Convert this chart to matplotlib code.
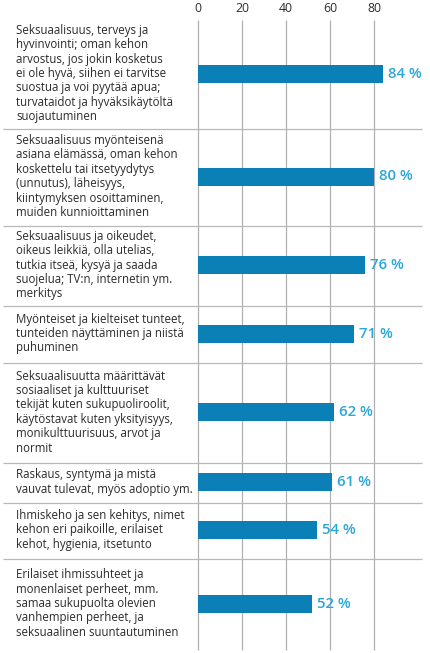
import matplotlib.pyplot as plt

# Aiheet ja osuudet (%)
labels = [
    "Seksuaalisuus, terveys ja\nhyvinvointi; oman kehon\narvostus, jos jokin kosketus\nei ole hyvä, siihen ei tarvitse\nsuostua ja voi pyytää apua;\nturvataidot ja hyväksikäytöltä\nsuojautuminen",
    "Seksuaalisuus myönteisenä\nasiana elämässä, oman kehon\nkoskettelu tai itsetyydytys\n(unnutus), läheisyys,\nkiintymyksen osoittaminen,\nmuiden kunnioittaminen",
    "Seksuaalisuus ja oikeudet,\noikeus leikkiä, olla utelias,\ntutkia itseä, kysyä ja saada\nsuojelua; TV:n, internetin ym.\nmerkitys",
    "Myönteiset ja kielteiset tunteet,\ntunteiden näyttäminen ja niistä\npuhuminen",
    "Seksuaalisuutta määrittävät\nsosiaaliset ja kulttuuriset\ntekijät kuten sukupuoliroolit,\nkäytöstavat kuten yksityisyys,\nmonikulttuurisuus, arvot ja\nnormit",
    "Raskaus, syntymä ja mistä\nvauvat tulevat, myös adoptio ym.",
    "Ihmiskeho ja sen kehitys, nimet\nkehon eri paikoille, erilaiset\nkehot, hygienia, itsetunto",
    "Erilaiset ihmissuhteet ja\nmonenlaiset perheet, mm.\nsamaa sukupuolta olevien\nvanhempien perheet, ja\nseksuaalinen suuntautuminen",
]
values = [84, 80, 76, 71, 62, 61, 54, 52]
ticks = [0, 20, 40, 60, 80]

# rivien rajat pikseleinä (asettelu)
rows = [20, 129, 226, 306, 363, 463, 503, 559, 650]
centers = [(rows[i] + rows[i + 1]) / 2 - 1 for i in range(len(values))]

W, H = 431, 653
x0 = 198  # nollakohta pikseleinä
scale = 2.2  # pikseliä per prosenttiyksikkö

bar_color = "#0b80b6"
val_color = "#2aa6d9"
text_color = "#2b2b2b"

plt.rcParams["font.family"] = ["Open Sans", "DejaVu Sans"]

fig = plt.figure(figsize=(W / 100, H / 100), dpi=100)
ax = fig.add_axes([0, 0, 1, 1])
ax.set_xlim(-x0 / scale, (W - x0) / scale)
ax.set_ylim(H, 0)
ax.axis("off")

# pystysuorat apuviivat
ax.vlines(ticks, rows[0], rows[-1], color="#b0b0b0", lw=0.9, zorder=1)
for t in ticks:
    ax.text(t, 9, str(t), ha="center", va="center", fontsize=8.8, color=text_color)

# rivien erottimet
ax.hlines(rows[1:-1], (3 - x0) / scale, (422 - x0) / scale, color="#b8b8b8", lw=0.9, zorder=1)

# palkit
ax.barh(centers, values, height=18, color=bar_color, zorder=2)

for c, v, lab in zip(centers, values, labels):
    ax.text(v + 2.3, c, f"{v} %", ha="left", va="center", fontsize=10.8,
            fontweight="semibold", color=val_color, zorder=3)
    ax.text((16 - x0) / scale, c, lab, ha="left", va="center", fontsize=8.3,
            color=text_color, linespacing=1.14)

fig.savefig("out.png", dpi=100)
